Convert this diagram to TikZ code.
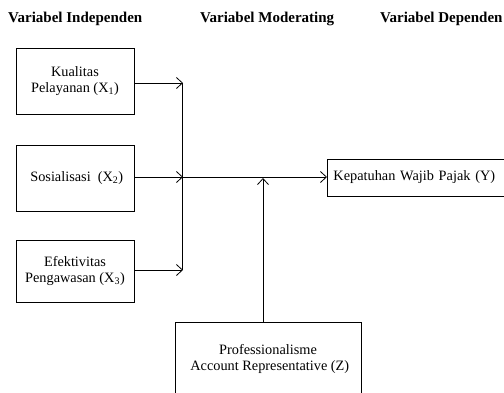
\documentclass[tikz,border=0pt]{standalone}
\usepackage{fontspec}
\setmainfont{Liberation Serif}
\usetikzlibrary{arrows.meta}
\tikzstyle{box} = [draw, line width=0.9pt, rectangle, align=center, inner sep=0pt]
\tikzstyle{arrow} = [line width=0.8pt,->,>={Straight Barb[length=6pt,width=11pt]}]
\tikzstyle{heading} = [anchor=base west, inner sep=0pt, font=\fontsize{15}{17}\selectfont\bfseries]

\begin{document}
\begin{tikzpicture}[x=1pt,y=-1pt,
	every node/.style={font=\fontsize{14.3}{16.5}\selectfont}]
	\useasboundingbox (0,0) rectangle (504,392);
	\clip (0,0) rectangle (504,392);

	% headings
	\node[heading] (hind) at (8,22) {Variabel Independen};
	\node[heading] (hmod) at (200,22) {Variabel Moderating};
	\node[heading] (hdep) at (380,22) {Variabel Dependen};

	% independent variables
	\node[box, minimum width=118pt, minimum height=66pt] (kualitas) at (75,81)
		{Kualitas\\Pelayanan (X\textsubscript{1})};
	\node[box, minimum width=118pt, minimum height=66pt] (sosialisasi) at (75,178)
		{\ Sosialisasi\ \ (X\textsubscript{2})};
	\node[box, minimum width=118pt, minimum height=62pt] (efektivitas) at (75,271)
		{Efektivitas\\Pengawasan (X\textsubscript{3})};

	% dependent variable
	\node[box, anchor=west, minimum width=200pt, minimum height=37pt,
		text width=188pt, align=left] (kepatuhan) at (327,177.5)
		{Kepatuhan Wajib Pajak (Y)};

	% moderating variable
	\node[box, anchor=north, minimum width=186pt, minimum height=90pt] (profesional) at (268,322) {};
	\node[anchor=north, align=center, inner sep=0pt] (profesional-text) at ([yshift=-22pt]profesional.north)
		{Professionalisme\\\ Account Representative (Z)};

	% connectors
	\coordinate (jtop) at (183,83);
	\coordinate (jmid) at (183,177);
	\coordinate (jbot) at (183,270);
	\coordinate (zjoin) at (263,178);

	\draw[arrow] (kualitas.east |- jtop) -- (jtop);
	\draw[line width=0.8pt] ([xshift=-1pt]jtop) -- ([xshift=-1pt]jbot);
	\draw[arrow] (sosialisasi.east |- jmid) -- (jmid);
	\draw[arrow] (efektivitas.east |- jbot) -- (jbot);
	\draw[arrow] (jmid) -- (kepatuhan.west |- jmid);
	\draw[arrow] (profesional.north -| zjoin) -- (zjoin);
\end{tikzpicture}
\end{document}
